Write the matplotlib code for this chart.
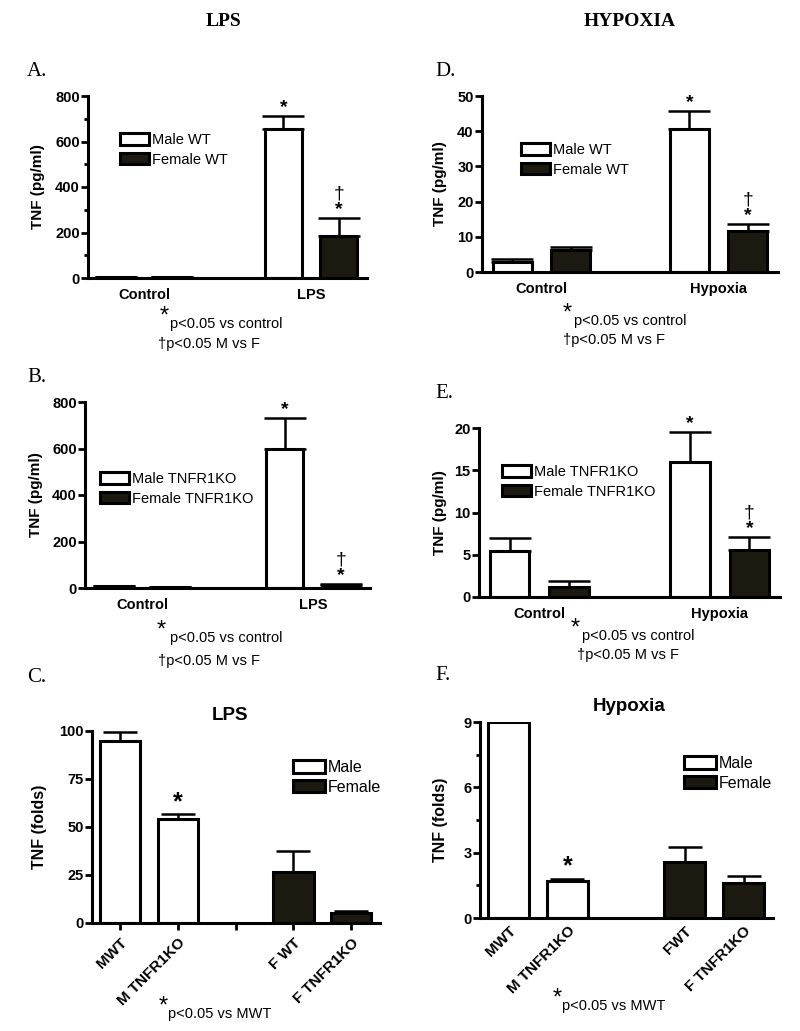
import matplotlib.pyplot as plt
from matplotlib.patches import Patch

plt.rcParams['font.family'] = ['Liberation Sans', 'DejaVu Sans']

W, H = 800, 1031
DARK = '#1c1a10'

# panel A: LPS, wild type (pg/ml)
A_groups = ['Control', 'LPS']
A_male = [5, 655]
A_male_err = [0, 57]
A_female = [5, 185]
A_female_err = [0, 79]

# panel B: LPS, TNFR1KO (pg/ml)
B_groups = ['Control', 'LPS']
B_male = [8, 600]
B_male_err = [0, 131]
B_female = [3, 15]
B_female_err = [0, 4]

# panel D: hypoxia, wild type (pg/ml)
D_groups = ['Control', 'Hypoxia']
D_male = [2.8, 40.6]
D_male_err = [0.8, 5.1]
D_female = [6.2, 11.7]
D_female_err = [0.8, 2.0]

# panel E: hypoxia, TNFR1KO (pg/ml)
E_groups = ['Control', 'Hypoxia']
E_male = [5.4, 16.0]
E_male_err = [1.6, 3.5]
E_female = [1.2, 5.6]
E_female_err = [0.7, 1.5]

# panels C and F: fold change
C_labels = ['MWT', 'M TNFR1KO', '', 'F WT', 'F TNFR1KO']
C_vals = [94.8, 54.0, 26.6, 5.2]
C_err = [4.9, 2.6, 11.1, 1.0]
F_labels = ['MWT', 'M TNFR1KO', '', 'FWT', 'F TNFR1KO']
F_vals = [9.0, 1.68, 2.56, 1.59]
F_err = [0.0, 0.12, 0.72, 0.35]
fold_pos = [0, 1, 3, 4]
fold_sex = ['m', 'm', 'f', 'f']

fig = plt.figure(figsize=(8, 10.31), dpi=100)


def fx(x):
    return x / W


def fy(y):
    return 1 - y / H


def add_ax(l, t, r, b):
    ax = fig.add_axes([l / W, 1 - b / H, (r - l) / W, (b - t) / H])
    for s in ['top', 'right']:
        ax.spines[s].set_visible(False)
    for s in ['left', 'bottom']:
        ax.spines[s].set_linewidth(2.2)
    ax.tick_params(axis='y', width=2, length=5, labelsize=10.5, pad=1)
    return ax


def bold_ticks(ax):
    for lab in ax.get_xticklabels() + ax.get_yticklabels():
        lab.set_fontweight('bold')


def mark(ax, x, top, dagger=False):
    ax.annotate('*', (x, top), xytext=(0, 0), textcoords='offset points',
                ha='center', va='bottom', fontsize=14, fontweight='bold')
    if dagger:
        ax.annotate('†', (x, top), xytext=(0, 11), textcoords='offset points',
                    ha='center', va='bottom', fontsize=14)


def group_panel(box, groups, male, male_err, female, female_err, ymax, yticks,
                ylabel_x, labels, leg_xy, minor=None, capsize=15):
    ax = add_ax(*box)
    pos = list(range(len(groups)))
    w, off = 0.22, 0.165
    xm = [p - off for p in pos]
    xf = [p + off for p in pos]
    ax.bar(xm, male, w, color='white', edgecolor='black', linewidth=2.2, zorder=2)
    ax.bar(xf, female, w, color=DARK, edgecolor='black', linewidth=2.2, zorder=2)
    ax.errorbar(xm, male, yerr=[[0] * len(male), male_err], fmt='none',
                ecolor='black', elinewidth=1.8, capsize=capsize, capthick=1.8, zorder=1)
    ax.errorbar(xf, female, yerr=[[0] * len(female), female_err], fmt='none',
                ecolor='black', elinewidth=1.8, capsize=capsize, capthick=1.8, zorder=1)
    ax.set_xlim(-0.335, 1.335)
    ax.set_ylim(0, ymax)
    ax.set_yticks(yticks)
    if minor is not None:
        ax.set_yticks(minor, minor=True)
        ax.tick_params(axis='y', which='minor', width=2, length=3)
    ax.set_xticks(pos)
    ax.set_xticklabels(groups, fontsize=10.5, fontweight='bold')
    ax.tick_params(axis='x', length=0, pad=7)
    bold_ticks(ax)
    ax.set_ylabel('TNF (pg/ml)', fontsize=11, fontweight='bold')
    ax.yaxis.set_label_coords((ylabel_x - box[0]) / (box[2] - box[0]), 0.5)
    mark(ax, xm[1], male[1] + male_err[1])
    mark(ax, xf[1], female[1] + female_err[1], dagger=True)
    handles = [Patch(facecolor='white', edgecolor='black', linewidth=2.2),
               Patch(facecolor=DARK, edgecolor='black', linewidth=2.2)]
    ax.legend(handles, labels, loc='upper left', bbox_to_anchor=(fx(leg_xy[0]), fy(leg_xy[1])),
              bbox_transform=fig.transFigure, frameon=False, fontsize=10.5,
              handlelength=2.0, handleheight=0.8, handletextpad=0.2, borderpad=0,
              borderaxespad=0, labelspacing=0.4)
    return ax


def fold_panel(box, labels, vals, err, ymax, yticks, title, title_x, ylabel_x, leg_xy,
               minor=None, xticklen=5):
    ax = add_ax(*box)
    colors = ['white' if s == 'm' else DARK for s in fold_sex]
    ax.bar(fold_pos, vals, 0.7, color=colors, edgecolor='black', linewidth=2.2, zorder=2)
    ax.errorbar(fold_pos, vals, yerr=[[0] * len(vals), err], fmt='none',
                ecolor='black', elinewidth=1.8, capsize=12, capthick=1.8, zorder=1)
    ax.set_xlim(-0.49, 4.5)
    ax.set_ylim(0, ymax)
    ax.set_yticks(yticks)
    if minor is not None:
        ax.set_yticks(minor, minor=True)
        ax.tick_params(axis='y', which='minor', width=2, length=3)
    ax.set_xticks(range(5))
    ax.set_xticklabels(labels, rotation=45, ha='right', rotation_mode='anchor',
                       fontsize=11, fontweight='bold')
    ax.tick_params(axis='x', length=xticklen, width=2, pad=4)
    bold_ticks(ax)
    ax.set_title(title, fontsize=13.5, fontweight='bold', pad=8,
                 x=(title_x - box[0]) / (box[2] - box[0]))
    ax.set_ylabel('TNF (folds)', fontsize=11.5, fontweight='bold')
    ax.yaxis.set_label_coords((ylabel_x - box[0]) / (box[2] - box[0]), 0.5)
    ax.annotate('*', (fold_pos[1], vals[1] + err[1]), xytext=(0, 0),
                textcoords='offset points', ha='center', va='bottom',
                fontsize=18, fontweight='bold')
    handles = [Patch(facecolor='white', edgecolor='black', linewidth=2.2),
               Patch(facecolor=DARK, edgecolor='black', linewidth=2.2)]
    ax.legend(handles, ['Male', 'Female'], loc='upper left',
              bbox_to_anchor=(fx(leg_xy[0]), fy(leg_xy[1])),
              bbox_transform=fig.transFigure, frameon=False, fontsize=11.5,
              handlelength=2.0, handleheight=0.8, handletextpad=0.15, borderpad=0,
              borderaxespad=0, labelspacing=0.3)
    return ax


def footnote(star_x, text_x, y, text):
    fig.text(fx(star_x), fy(y - 7), '*', fontsize=17, ha='center', va='center')
    fig.text(fx(text_x), fy(y), text, fontsize=10.5, ha='left', va='center')


def dagger_note(x, y):
    fig.text(fx(x), fy(y), '†p<0.05 M vs F', fontsize=10.5, ha='left', va='center')


serif = ['Liberation Serif', 'DejaVu Serif']
fig.text(fx(224), fy(22), 'LPS', fontsize=14, fontweight='bold', family=serif,
         ha='center', va='center')
fig.text(fx(630), fy(22), 'HYPOXIA', fontsize=14, fontweight='bold', family=serif,
         ha='center', va='center')
for letter, x, y in [('A.', 27, 72), ('B.', 27, 377), ('C.', 27, 678),
                     ('D.', 435, 72), ('E.', 435, 393), ('F.', 435, 675)]:
    fig.text(fx(x), fy(y), letter, fontsize=15, family=serif, ha='left', va='center')

group_panel((88, 96, 367, 278), A_groups, A_male, A_male_err, A_female, A_female_err,
            800, [0, 200, 400, 600, 800], 45, ['Male WT', 'Female WT'], (120, 133),
            minor=[100, 300, 500, 700])
footnote(164, 170, 324, 'p<0.05 vs control')
dagger_note(158, 344)

group_panel((85, 402, 370, 588), B_groups, B_male, B_male_err, B_female, B_female_err,
            800, [0, 200, 400, 600, 800], 43, ['Male TNFR1KO', 'Female TNFR1KO'], (100, 472))
footnote(161, 170, 638, 'p<0.05 vs control')
dagger_note(158, 661)

group_panel((482, 96, 778, 272), D_groups, D_male, D_male_err, D_female, D_female_err,
            50, [0, 10, 20, 30, 40, 50], 447, ['Male WT', 'Female WT'], (521, 143))
footnote(567, 574, 321, 'p<0.05 vs control')
dagger_note(563, 340)

group_panel((479, 428, 780, 597), E_groups, E_male, E_male_err, E_female, E_female_err,
            20, [0, 5, 10, 15, 20], 447, ['Male TNFR1KO', 'Female TNFR1KO'], (502, 465))
footnote(575, 582, 636, 'p<0.05 vs control')
dagger_note(577, 655)

fold_panel((92, 731, 380, 923), C_labels, C_vals, C_err, 100, [0, 25, 50, 75, 100],
           'LPS', 230, 47, (293, 760))
footnote(163, 168, 1014, 'p<0.05 vs MWT')

fold_panel((480, 722, 773, 918), F_labels, F_vals, F_err, 9, [0, 3, 6, 9],
           'Hypoxia', 629, 448, (684, 756), minor=[1.5, 4.5, 7.5], xticklen=0)
footnote(557, 562, 1006, 'p<0.05 vs MWT')

fig.savefig('out.png', dpi=100)
